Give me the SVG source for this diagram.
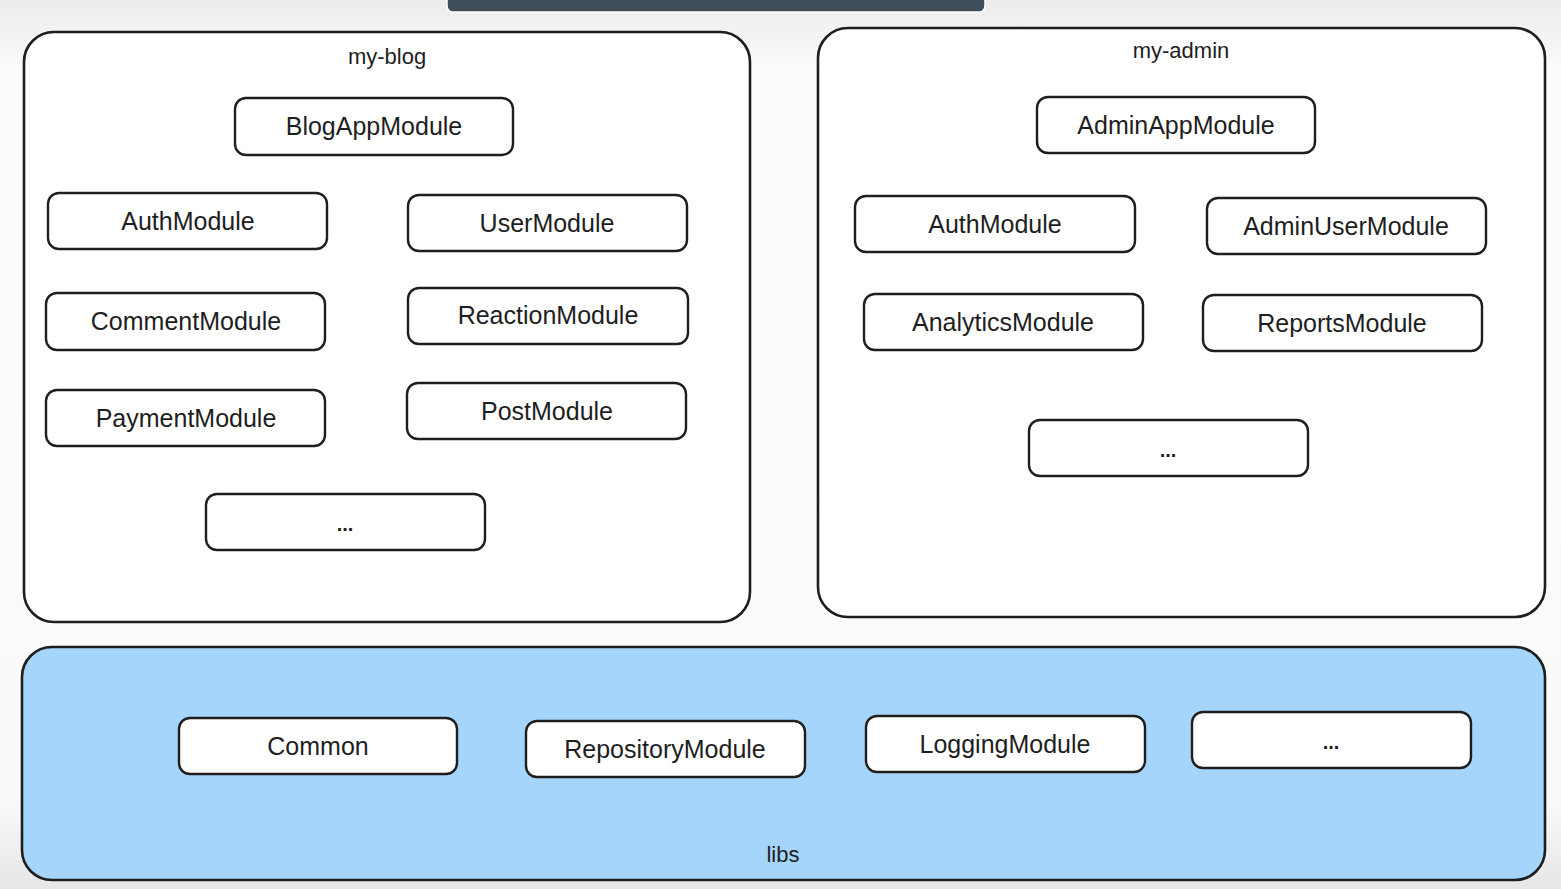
<svg xmlns="http://www.w3.org/2000/svg" width="1561" height="889" viewBox="0 0 1561 889">
<defs>
<linearGradient id="bg" x1="0" y1="0" x2="0" y2="1">
<stop offset="0" stop-color="#ececec"/>
<stop offset="0.08" stop-color="#fbfbfb"/>
<stop offset="0.9" stop-color="#fafafa"/>
<stop offset="1" stop-color="#e6e6e6"/>
</linearGradient>
</defs>
<style>
.container{fill:#ffffff;stroke:#1e1e1e;stroke-width:2.6}
.libs{fill:#a5d5fa;stroke:#1e1e1e;stroke-width:2.6}
.node rect{fill:#ffffff;stroke:#1e1e1e;stroke-width:2.4}
.lbl{font-family:"Liberation Sans",Arial,sans-serif;font-size:25px;fill:#1e1e1e;text-anchor:middle;dominant-baseline:central}
.title{font-family:"Liberation Sans",Arial,sans-serif;font-size:22px;fill:#1e1e1e;text-anchor:middle;dominant-baseline:central}
.dots{font-family:"Liberation Sans",Arial,sans-serif;font-size:20px;font-weight:bold;fill:#1e1e1e;text-anchor:middle;dominant-baseline:central}
</style>
<rect x="0" y="0" width="1561" height="889" fill="url(#bg)"/>
<rect x="447" y="-10" width="538" height="22" rx="6" fill="#3f4e58" stroke="#ffffff" stroke-width="1.5"/>

<g id="my-blog">
<rect class="container" x="24" y="32" width="726" height="590" rx="30"/>
<text class="title" x="387" y="56">my-blog</text>
</g>
<g id="my-admin">
<rect class="container" x="818" y="28" width="727" height="589" rx="30"/>
<text class="title" x="1181" y="50">my-admin</text>
</g>
<g id="libs">
<rect class="libs" x="22" y="647" width="1523" height="233" rx="30"/>
<text class="title" x="783" y="854">libs</text>
</g>

<g id="blog-app-module" class="node"><rect x="235" y="98" width="278" height="57" rx="11"/><text class="lbl" x="374" y="126">BlogAppModule</text></g>
<g id="blog-auth-module" class="node"><rect x="48" y="193" width="279" height="56" rx="11"/><text class="lbl" x="188" y="221">AuthModule</text></g>
<g id="user-module" class="node"><rect x="408" y="195" width="279" height="56" rx="11"/><text class="lbl" x="547" y="223">UserModule</text></g>
<g id="comment-module" class="node"><rect x="46" y="293" width="279" height="57" rx="11"/><text class="lbl" x="186" y="321">CommentModule</text></g>
<g id="reaction-module" class="node"><rect x="408" y="288" width="280" height="56" rx="11"/><text class="lbl" x="548" y="315">ReactionModule</text></g>
<g id="payment-module" class="node"><rect x="46" y="390" width="279" height="56" rx="11"/><text class="lbl" x="186" y="418">PaymentModule</text></g>
<g id="post-module" class="node"><rect x="407" y="383" width="279" height="56" rx="11"/><text class="lbl" x="547" y="411">PostModule</text></g>
<g id="blog-more" class="node"><rect x="206" y="494" width="279" height="56" rx="11"/><text class="dots" x="345" y="524">...</text></g>

<g id="admin-app-module" class="node"><rect x="1037" y="97" width="278" height="56" rx="11"/><text class="lbl" x="1176" y="125">AdminAppModule</text></g>
<g id="admin-auth-module" class="node"><rect x="855" y="196" width="280" height="56" rx="11"/><text class="lbl" x="995" y="224">AuthModule</text></g>
<g id="admin-user-module" class="node"><rect x="1207" y="198" width="279" height="56" rx="11"/><text class="lbl" x="1346" y="226">AdminUserModule</text></g>
<g id="analytics-module" class="node"><rect x="864" y="294" width="279" height="56" rx="11"/><text class="lbl" x="1003" y="322">AnalyticsModule</text></g>
<g id="reports-module" class="node"><rect x="1203" y="295" width="279" height="56" rx="11"/><text class="lbl" x="1342" y="323">ReportsModule</text></g>
<g id="admin-more" class="node"><rect x="1029" y="420" width="279" height="56" rx="11"/><text class="dots" x="1168" y="450">...</text></g>

<g id="common" class="node"><rect x="179" y="718" width="278" height="56" rx="11"/><text class="lbl" x="318" y="746">Common</text></g>
<g id="repository-module" class="node"><rect x="526" y="721" width="279" height="56" rx="11"/><text class="lbl" x="665" y="749">RepositoryModule</text></g>
<g id="logging-module" class="node"><rect x="866" y="716" width="279" height="56" rx="11"/><text class="lbl" x="1005" y="744">LoggingModule</text></g>
<g id="libs-more" class="node"><rect x="1192" y="712" width="279" height="56" rx="11"/><text class="dots" x="1331" y="742">...</text></g>

<g id="connectors"></g>
</svg>
